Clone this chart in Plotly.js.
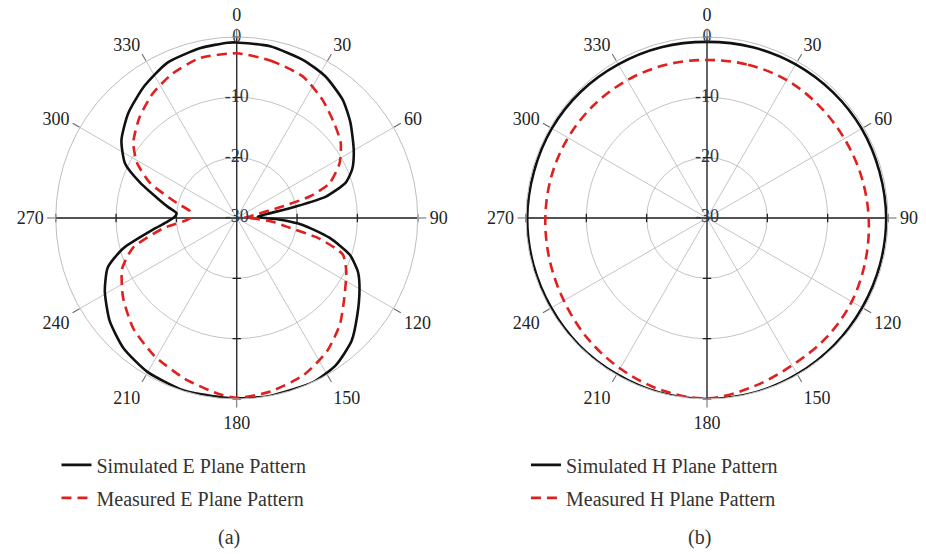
<!DOCTYPE html>
<html>
<head>
<meta charset="utf-8">
<script src="https://cdn.plot.ly/plotly-3.0.1.min.js"></script>
<style>html,body{margin:0;padding:0;background:#fff;}#chart{width:926px;height:554px;}</style>
</head>
<body>
<div id="chart"></div>
<script>
// ---- Data (dB vs angle in degrees) ----
const thetaESim = [0,11,23,32,42,50,60,67,72,76.5,79,82,86,89,92,96,102,108,114,120,129,137,146,155,170,180,186,197,210,221,231,241,249,255,263,267,271,274.5,279,283,290,296,304,314,325,336,348,357,360];
const rESim     = [-0.9,-1.0,-1.6,-2.3,-3.7,-5.4,-7.6,-9.2,-11,-14.8,-20,-24.5,-26.5,-26,-23,-19,-14.3,-10.3,-8,-6.5,-4.3,-2.1,-0.6,0,0,-0.1,-0.2,-0.1,-0.5,-1.4,-2.9,-5,-7.1,-10.5,-16.5,-18.5,-19.7,-20,-18.5,-16.9,-13,-9.4,-6.95,-5,-3.3,-1.8,-1.2,-0.9,-0.9];

const thetaEMeas = [0,12,25,36,46,54,62,69.5,73.6,76,80,84,88,92,96,100,104,109,116,127,136,146,157,169,180,186.5,198,211,223,235,246,254,262,270,278,284,292,299,306,316,326,336,347,360];
const rEMeas     = [-2.7,-3.3,-4.1,-5.8,-7.5,-8.7,-10.7,-13.6,-17.4,-22.5,-27,-28,-28.8,-27,-24,-21.5,-15.9,-11.4,-9.8,-7.7,-5.4,-3.3,-1.7,-0.7,-0.2,-0.75,-2,-3.4,-4.9,-7,-9.2,-12.1,-17.7,-22.3,-22.2,-19.8,-14.5,-11.1,-8.8,-6.8,-5.1,-3.8,-2.8,-2.7];

const thetaH = [0,15,30,45,60,75,90,105,120,135,150,165,180,195,210,225,240,255,270,285,300,315,330,345,360];
const rHSim  = [-0.8,-0.7,-0.6,-0.5,-0.4,-0.4,-0.3,-0.3,-0.3,-0.2,-0.1,0,0,0,-0.1,-0.1,-0.2,-0.2,-0.2,-0.3,-0.3,-0.4,-0.6,-0.7,-0.8];
const rHMeas = [-3.8,-3.7,-3.6,-3.7,-3.7,-3.5,-3.2,-2.8,-2.3,-2.0,-1.8,-1.0,-0.1,-0.5,-1.2,-1.9,-2.6,-3.0,-3.2,-3.3,-3.4,-3.5,-3.6,-3.7,-3.8];

const angTickVals = [0,30,60,90,120,150,180,210,240,270,300,330];
const angTickText = ['0','30','60','90','120','150','180','210','240','270','300','330'];
const radTickVals = [-30,-20,-10,0];
const radTickText = ['-30','-20','-10','0'];

const legendNames = {
  a: ['Simulated E Plane Pattern','Measured E Plane Pattern'],
  b: ['Simulated H Plane Pattern','Measured H Plane Pattern']
};
const panelLabels = ['(a)','(b)'];

// ---- Styles ----
const SERIF = 'Liberation Serif, Times New Roman, serif';
const BLACK = '#111111';
const RED = '#e0201e';

function axisDecor(sub){
  const out = [];
  out.push({type:'scatterpolar', subplot:sub, theta:[270,270,270,90,90,90], r:[0,-10,-20,-20,-10,0],
    mode:'lines+markers', line:{color:'#222',width:1.3},
    marker:{symbol:'line-ns', size:6, line:{color:'#222',width:1.3}}, showlegend:false, hoverinfo:'skip'});
  out.push({type:'scatterpolar', subplot:sub, theta:[0,0,0,180,180,180], r:[0,-10,-20,-20,-10,0],
    mode:'lines+markers', line:{color:'#222',width:1.3},
    marker:{symbol:'line-ew', size:6, line:{color:'#222',width:1.3}}, showlegend:false, hoverinfo:'skip'});
  return out;
}
function radLabels(sub){
  return {type:'scatterpolar', subplot:sub, theta:radTickVals.map(()=>0), r:radTickVals, text:radTickText,
    mode:'text', textposition:'middle center', textfont:{family:SERIF, size:18, color:'#303844'},
    showlegend:false, hoverinfo:'skip', cliponaxis:false};
}

const traces = [];
traces.push(...axisDecor('polar'));
traces.push({type:'scatterpolar', subplot:'polar', theta:thetaESim, r:rESim, mode:'lines',
  line:{color:BLACK,width:2.6,shape:'spline',smoothing:0.6}, name:legendNames.a[0], legend:'legend', legendgroup:'a1'});
traces.push({type:'scatterpolar', subplot:'polar', theta:thetaEMeas, r:rEMeas, mode:'lines',
  line:{color:RED,width:2.6,dash:'10px,6px',shape:'spline',smoothing:0.6}, name:legendNames.a[1], legend:'legend', legendgroup:'a2'});
traces.push(radLabels('polar'));

traces.push(...axisDecor('polar2'));
traces.push({type:'scatterpolar', subplot:'polar2', theta:thetaH, r:rHSim, mode:'lines',
  line:{color:BLACK,width:2.6,shape:'spline'}, name:legendNames.b[0], legend:'legend2', legendgroup:'b1'});
traces.push({type:'scatterpolar', subplot:'polar2', theta:thetaH, r:rHMeas, mode:'lines',
  line:{color:RED,width:2.6,dash:'10px,6px',shape:'spline'}, name:legendNames.b[1], legend:'legend2', legendgroup:'b2'});
traces.push(radLabels('polar2'));

function polarCfg(xd){
  return {
    domain:{x:xd, y:[0.2798,0.9332]},
    bgcolor:'rgba(0,0,0,0)',
    radialaxis:{range:[-30,0], tickmode:'array', tickvals:radTickVals, showticklabels:false,
      ticks:'', showline:false, gridcolor:'#c4c4c4', gridwidth:1, angle:90},
    angularaxis:{rotation:90, direction:'clockwise', tickmode:'array', tickvals:angTickVals, ticktext:angTickText,
      ticks:'outside', ticklen:8, tickwidth:1, tickcolor:'#666', showline:true, linecolor:'#bdbdbd', linewidth:1,
      gridcolor:'#c4c4c4', gridwidth:1, tickfont:{family:SERIF, size:18, color:'#222'}}
  };
}

const legendCfg = (x) => ({x:x, xanchor:'left', y:0.196, yanchor:'top', bgcolor:'rgba(0,0,0,0)',
  font:{family:SERIF, size:20, color:'#333'}, tracegroupgap:4, itemwidth:30});

const layout = {
  width:926, height:554,
  margin:{l:0,r:0,t:0,b:0},
  paper_bgcolor:'#fff',
  showlegend:true,
  polar:polarCfg([0.0602,0.4511]),
  polar2:polarCfg([0.568,0.959]),
  legend:legendCfg(0.061),
  legend2:legendCfg(0.568),
  annotations:[
    {text:panelLabels[0], x:229/926, y:1-537/554, xref:'paper', yref:'paper', xanchor:'center', yanchor:'middle', showarrow:false,
      font:{family:SERIF,size:20,color:'#333'}},
    {text:panelLabels[1], x:699/926, y:1-537/554, xref:'paper', yref:'paper', xanchor:'center', yanchor:'middle', showarrow:false,
      font:{family:SERIF,size:20,color:'#333'}}
  ]
};

Plotly.newPlot('chart', traces, layout, {displayModeBar:false, staticPlot:true});
</script>
</body>
</html>
